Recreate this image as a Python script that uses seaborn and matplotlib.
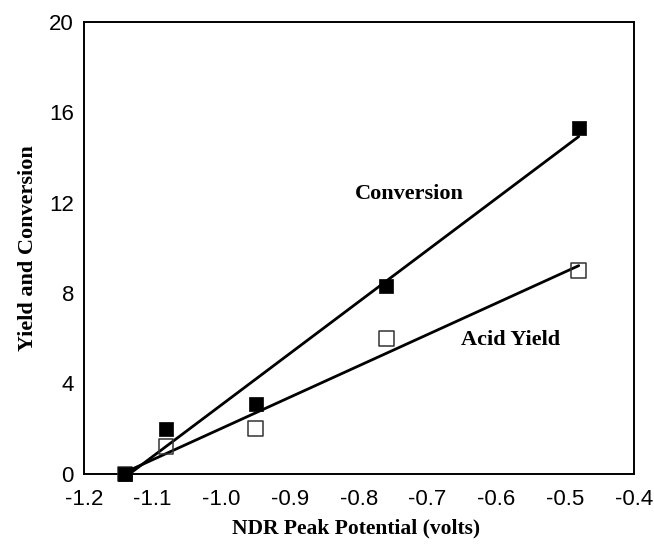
import matplotlib
matplotlib.use("Agg")
import matplotlib.pyplot as plt
import seaborn as sns
import pandas as pd
from matplotlib.ticker import MultipleLocator

# NDR peak potential (volts) and the measured conversion / acid yield
potential = [-1.14, -1.08, -0.95, -0.76, -0.48]
conversion = [0.0, 2.0, 3.1, 8.3, 15.3]
acid_yield = [0.0, 1.2, 2.0, 6.0, 9.0]

x_ticks = [-1.2, -1.1, -1.0, -0.9, -0.8, -0.7, -0.6, -0.5, -0.4]
y_ticks = [0, 4, 8, 12, 16, 20]

df = pd.DataFrame({"potential": potential,
                   "conversion": conversion,
                   "acid_yield": acid_yield})

sns.set_theme(style="white")
plt.rcParams["font.family"] = ["Liberation Sans", "DejaVu Sans"]
plt.rcParams["text.color"] = "black"
plt.rcParams["axes.labelcolor"] = "black"

fig, ax = plt.subplots(figsize=(6.54, 5.49), dpi=100)
fig.subplots_adjust(left=0.128, right=0.969, top=0.960, bottom=0.137)

# least-squares lines through each series
sns.regplot(data=df, x="potential", y="conversion", ax=ax, scatter=False,
            ci=None, color="black", line_kws={"linewidth": 2.0, "zorder": 2})
sns.regplot(data=df, x="potential", y="acid_yield", ax=ax, scatter=False,
            ci=None, color="black", line_kws={"linewidth": 2.0, "zorder": 2})

# data points
sns.scatterplot(data=df, x="potential", y="acid_yield", ax=ax, marker="s",
                s=110, facecolor="none", edgecolor="#333333", linewidth=1.1,
                zorder=3, clip_on=False)
sns.scatterplot(data=df, x="potential", y="conversion", ax=ax, marker="s",
                s=110, color="black", edgecolor="black", linewidth=0.5,
                zorder=4, clip_on=False)

ax.text(-0.727, 12.4, "Conversion", family="Liberation Serif",
        fontweight="bold", fontsize=16, ha="center", va="center",
        color="black")
ax.text(-0.579, 5.9, "Acid Yield", family="Liberation Serif",
        fontweight="bold", fontsize=16, ha="center", va="center",
        color="black")

ax.set_xlim(-1.2, -0.4)
ax.set_ylim(0, 20)
ax.set_xticks(x_ticks)
ax.set_xticklabels([f"{t:.1f}" for t in x_ticks])
ax.set_yticks(y_ticks)
ax.xaxis.set_minor_locator(MultipleLocator(0.05))
ax.yaxis.set_minor_locator(MultipleLocator(2))

ax.tick_params(axis="both", which="major", direction="in", length=7,
               width=1.0, color="black", labelsize=16, labelcolor="black")
ax.tick_params(axis="x", which="major", pad=11)
ax.tick_params(axis="y", which="major", pad=7)
ax.tick_params(axis="both", which="minor", direction="in", length=3.5,
               width=1.0, color="black")
ax.tick_params(top=False, right=False, which="both")

for side in ["left", "right", "top", "bottom"]:
    ax.spines[side].set_visible(True)
    ax.spines[side].set_color("black")
    ax.spines[side].set_linewidth(1.4)

ax.set_xlabel("NDR Peak Potential (volts)", family="Liberation Serif",
              fontweight="bold", fontsize=15.5, color="black", va="center")
ax.set_ylabel("Yield and Conversion", family="Liberation Serif",
              fontweight="bold", fontsize=16, color="black", va="center")
ax.xaxis.set_label_coords(0.495, -0.121)
ax.yaxis.set_label_coords(-0.102, 0.5)
ax.grid(False)

fig.savefig("out.png", dpi=100)
